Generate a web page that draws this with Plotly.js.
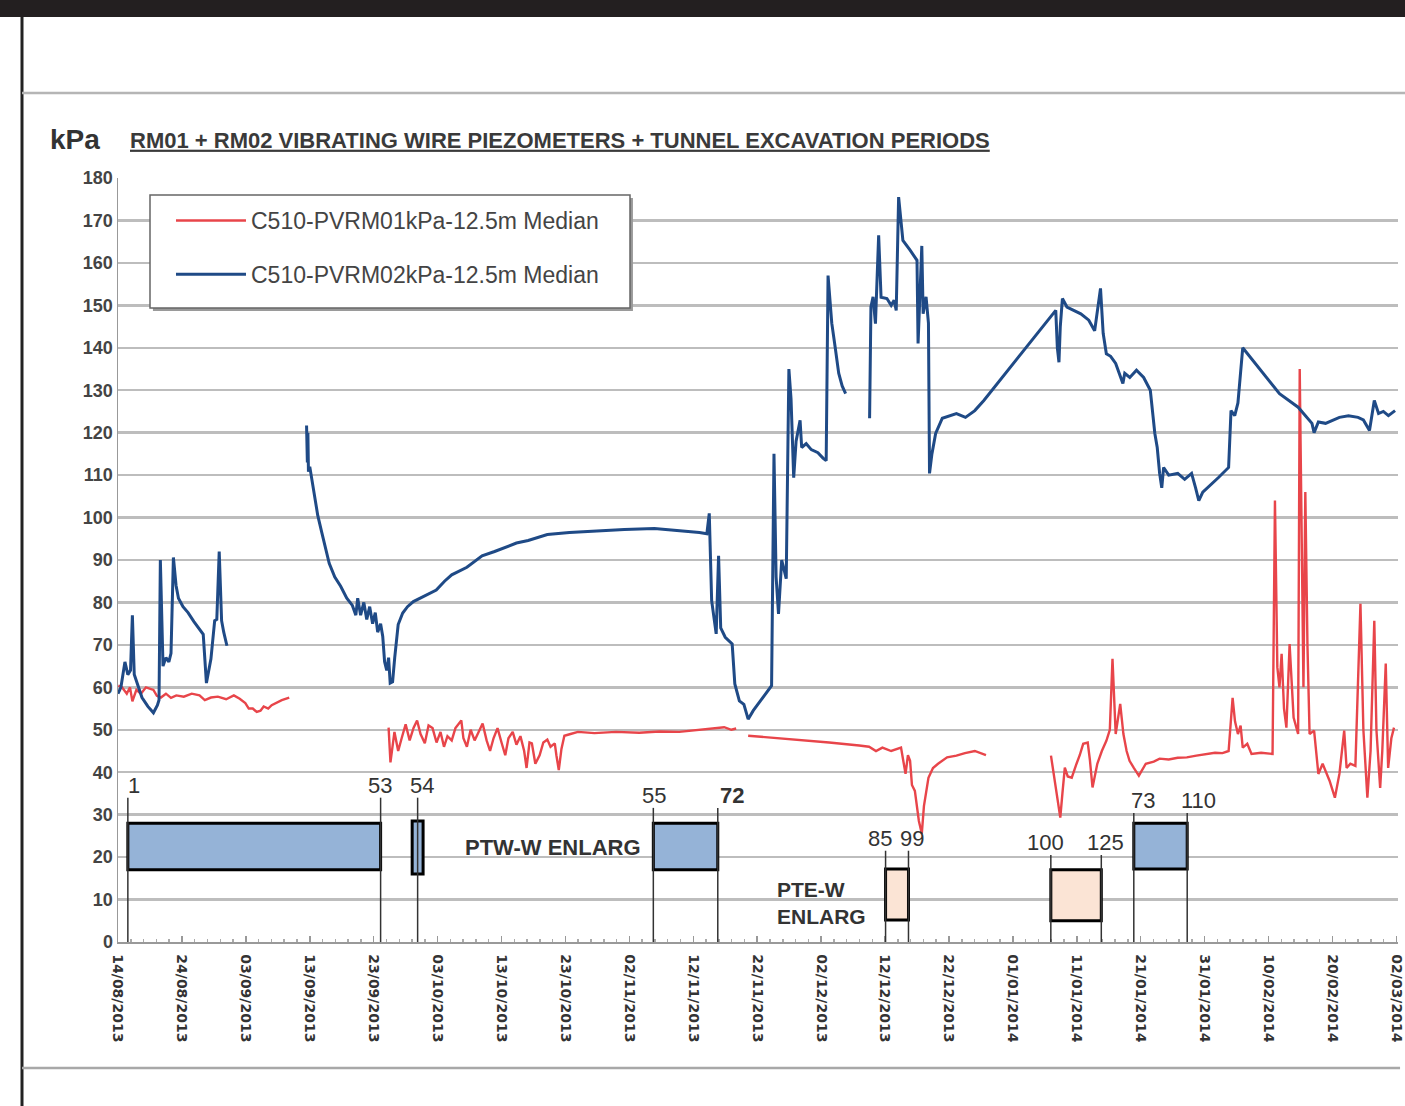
<!DOCTYPE html>
<html>
<head>
<meta charset="utf-8">
<script src="https://cdn.plot.ly/plotly-3.0.1.min.js"></script>
<style>html,body{margin:0;padding:0;background:#fff;}#chart{width:1405px;height:1106px;}</style>
</head>
<body>
<div id="chart"></div>
<script>
// ---------------- DATA ----------------
const seriesNames = ['C510-PVRM01kPa-12.5m Median', 'C510-PVRM02kPa-12.5m Median'];

// RM01 (red)
const rm01Dates = [
'2013-08-14 01:00','2013-08-14 15:00','2013-08-15 09:00','2013-08-15 21:00','2013-08-16 06:00','2013-08-16 21:00','2013-08-17 14:00','2013-08-18 09:00','2013-08-19 13:00','2013-08-20 02:00','2013-08-20 17:00','2013-08-21 12:00','2013-08-22 07:00','2013-08-23 03:00','2013-08-24 07:00','2013-08-25 13:00','2013-08-26 18:00','2013-08-27 14:00','2013-08-28 13:00','2013-08-29 15:00','2013-08-30 22:00','2013-09-01 03:00','2013-09-02 01:00','2013-09-02 22:00','2013-09-03 11:00','2013-09-04 02:00','2013-09-04 17:00','2013-09-05 07:00','2013-09-05 19:00','2013-09-06 12:00','2013-09-07 01:00','2013-09-07 17:00','2013-09-08 15:00','2013-09-09 19:00',
'2013-09-17 00:00',
'2013-09-25 08:00','2013-09-25 15:00','2013-09-26 06:00','2013-09-26 20:00','2013-09-27 09:00','2013-09-28 00:00','2013-09-28 15:00','2013-09-29 06:00','2013-09-29 19:00','2013-09-30 08:00','2013-10-01 00:00','2013-10-01 14:00','2013-10-02 05:00','2013-10-02 20:00','2013-10-03 11:00','2013-10-04 00:00','2013-10-04 13:00','2013-10-05 05:00','2013-10-05 19:00','2013-10-06 17:00','2013-10-07 01:00','2013-10-07 14:00','2013-10-08 04:00','2013-10-08 19:00','2013-10-09 10:00','2013-10-10 01:00','2013-10-10 16:00','2013-10-11 05:00','2013-10-11 18:00','2013-10-12 09:00','2013-10-13 00:00','2013-10-13 14:00','2013-10-14 02:00','2013-10-14 18:00','2013-10-15 08:00','2013-10-15 23:00','2013-10-16 13:00','2013-10-16 22:00','2013-10-17 09:00','2013-10-17 18:00','2013-10-18 07:00','2013-10-18 23:00','2013-10-19 13:00','2013-10-20 04:00','2013-10-20 16:00','2013-10-21 08:00','2013-10-21 14:00','2013-10-21 23:00','2013-10-22 09:00','2013-10-22 20:00','2013-10-23 19:00','2013-10-24 23:00','2013-10-27 13:00','2013-10-30 22:00','2013-11-03 13:00','2013-11-06 17:00','2013-11-09 19:00','2013-11-12 23:00','2013-11-15 07:00','2013-11-16 20:00','2013-11-17 23:00','2013-11-18 17:00',
'2013-11-19 12:00',
'2013-11-20 14:00','2013-11-23 21:00','2013-11-28 13:00','2013-12-03 06:00','2013-12-07 23:00','2013-12-09 12:00','2013-12-10 14:00','2013-12-11 14:00','2013-12-12 23:00','2013-12-13 21:00','2013-12-14 12:00','2013-12-15 05:00','2013-12-15 14:00','2013-12-15 22:00','2013-12-16 05:00','2013-12-16 16:00','2013-12-17 00:00','2013-12-17 07:00','2013-12-17 18:00','2013-12-18 02:00','2013-12-18 19:00','2013-12-19 12:00','2013-12-20 07:00','2013-12-21 17:00','2013-12-23 04:00','2013-12-24 12:00','2013-12-26 01:00','2013-12-27 00:00','2013-12-27 19:00',
'2014-01-01 00:00',
'2014-01-06 23:00','2014-01-07 06:00','2014-01-07 17:00','2014-01-08 01:00','2014-01-08 10:00','2014-01-08 18:00','2014-01-09 03:00','2014-01-09 14:00','2014-01-10 05:00','2014-01-10 23:00','2014-01-11 11:00','2014-01-12 00:00','2014-01-12 17:00','2014-01-13 01:00','2014-01-13 11:00','2014-01-14 05:00','2014-01-14 22:00','2014-01-15 15:00','2014-01-16 04:00','2014-01-16 14:00','2014-01-17 02:00','2014-01-17 19:00','2014-01-18 07:00','2014-01-18 19:00','2014-01-19 06:00','2014-01-19 22:00','2014-01-20 17:00','2014-01-21 19:00','2014-01-23 01:00','2014-01-23 23:00','2014-01-25 09:00','2014-01-26 19:00','2014-01-28 05:00','2014-01-29 17:00','2014-01-31 04:00','2014-02-01 15:00','2014-02-02 19:00','2014-02-03 18:00','2014-02-04 09:00','2014-02-04 18:00','2014-02-05 05:00','2014-02-05 15:00','2014-02-05 23:00','2014-02-06 16:00','2014-02-07 08:00','2014-02-08 20:00','2014-02-10 15:00','2014-02-11 00:00','2014-02-11 09:00','2014-02-11 17:00','2014-02-12 01:00','2014-02-12 10:00','2014-02-12 19:00','2014-02-13 07:00','2014-02-13 22:00','2014-02-14 15:00','2014-02-14 21:00','2014-02-15 06:00','2014-02-15 11:00','2014-02-15 18:00','2014-02-16 02:00','2014-02-16 10:00','2014-02-17 03:00','2014-02-17 19:00','2014-02-18 11:00','2014-02-18 22:00','2014-02-19 13:00','2014-02-20 09:00','2014-02-21 02:00','2014-02-21 20:00','2014-02-22 05:00','2014-02-22 19:00','2014-02-23 14:00','2014-02-24 09:00','2014-02-24 20:00','2014-02-25 11:00','2014-02-25 23:00','2014-02-26 13:00','2014-02-26 21:00','2014-02-27 11:00','2014-02-27 19:00','2014-02-28 08:00','2014-02-28 17:00','2014-03-01 05:00','2014-03-01 15:00'
];
const rm01Values = [
60.4,60,58.5,60,56.7,59.4,58.5,60,59.4,58,57.6,58.5,57.5,58.1,57.8,58.5,58.1,57,57.6,57.8,57.2,58.1,57.3,56.3,55,55,54.2,54.5,55.5,55,55.8,56.3,57,57.6,
null,
50.5,42.3,49.5,45,48,51.3,47.5,50.5,52.2,49,46.8,51,50.4,47,49.5,46,48.5,47.5,50.4,52.2,48,46,50,47.5,49.5,51.5,47.5,45,48,50.4,47,44,48,49.5,46.5,48.5,45,41,47,46.8,42,44,47,47.7,46,46.8,44,40.5,45.5,48.6,49,49.5,49.2,49.5,49.3,49.6,49.5,50,50.5,50.6,50,50.3,
null,
48.6,48.2,47.6,47,46.3,46,45,45.8,45,45.5,45.8,39.6,44,42.7,37,35.6,31,28.5,25.5,32,38.7,41,42,43.5,43.9,44.5,45,44.5,44,
null,
43.9,41,37.3,33,29.3,35,41.1,39,38.7,42,44,46.7,47,43,36.4,42,45,47.4,50,66.7,49,56.1,49,45,42.7,41,39.2,42,42.5,43.2,43,43.4,43.5,43.9,44.2,44.6,44.5,45,57.5,52,49,51,45.8,46.7,44.3,44.6,44.3,104,64.7,60,67.9,55,50.5,70.2,52.9,49,135,90,60,106,70,49,49.8,39.6,42,40.3,38,34,39.6,49.8,41,42,41.5,79.7,50,34,45,75.7,50,36.3,45,65.6,41,48,50.5
];

// RM02 (blue)
const rm02Dates = [
'2013-08-14 00:00','2013-08-14 11:00','2013-08-15 02:00','2013-08-15 13:00','2013-08-15 23:00','2013-08-16 06:00','2013-08-16 13:00','2013-08-16 23:00','2013-08-17 18:00','2013-08-18 16:00','2013-08-19 13:00','2013-08-20 04:00','2013-08-20 10:00','2013-08-20 15:00','2013-08-20 21:00','2013-08-21 01:00','2013-08-21 12:00','2013-08-21 23:00','2013-08-22 07:00','2013-08-22 16:00','2013-08-23 02:00','2013-08-23 11:00','2013-08-24 04:00','2013-08-24 23:00','2013-08-25 21:00','2013-08-26 16:00','2013-08-27 08:00','2013-08-27 20:00','2013-08-28 05:00','2013-08-28 13:00','2013-08-29 03:00','2013-08-29 11:00','2013-08-29 20:00','2013-08-30 05:00','2013-08-30 13:00','2013-08-31 01:00',
'2013-09-05 00:00',
'2013-09-12 12:00','2013-09-12 15:00','2013-09-12 17:00','2013-09-12 19:00','2013-09-13 00:00','2013-09-13 16:00','2013-09-14 06:00','2013-09-14 21:00','2013-09-16 01:00','2013-09-16 22:00','2013-09-17 20:00','2013-09-18 19:00','2013-09-19 16:00','2013-09-20 05:00','2013-09-20 12:00','2013-09-20 23:00','2013-09-21 11:00','2013-09-21 22:00','2013-09-22 09:00','2013-09-22 20:00','2013-09-23 06:00','2013-09-23 15:00','2013-09-24 02:00','2013-09-24 10:00','2013-09-24 17:00','2013-09-25 01:00','2013-09-25 08:00','2013-09-25 14:00','2013-09-25 23:00','2013-09-26 07:00','2013-09-26 20:00','2013-09-27 13:00','2013-09-28 07:00','2013-09-29 05:00','2013-09-30 23:00','2013-10-02 19:00','2013-10-04 02:00','2013-10-05 05:00','2013-10-07 14:00','2013-10-09 23:00','2013-10-11 22:00','2013-10-13 14:00','2013-10-15 08:00','2013-10-17 04:00','2013-10-20 04:00','2013-10-23 15:00','2013-10-27 22:00','2013-11-01 05:00','2013-11-05 22:00','2013-11-09 19:00','2013-11-12 23:00','2013-11-14 03:00','2013-11-14 12:00','2013-11-14 21:00','2013-11-15 07:00','2013-11-15 14:00','2013-11-15 23:00','2013-11-16 07:00','2013-11-17 00:00','2013-11-18 02:00','2013-11-18 12:00','2013-11-19 05:00','2013-11-19 22:00','2013-11-20 14:00','2013-11-21 09:00','2013-11-22 19:00','2013-11-24 06:00','2013-11-24 15:00','2013-11-24 23:00','2013-11-25 08:00','2013-11-25 20:00','2013-11-26 13:00','2013-11-26 23:00','2013-11-27 07:00','2013-11-27 17:00','2013-11-28 02:00','2013-11-28 17:00','2013-11-28 23:00','2013-11-29 16:00','2013-11-30 11:00','2013-12-01 12:00','2013-12-02 07:00','2013-12-02 19:00','2013-12-03 02:00','2013-12-03 16:00','2013-12-04 05:00','2013-12-04 18:00','2013-12-05 07:00','2013-12-05 20:00',
'2013-12-07 12:00',
'2013-12-09 14:00','2013-12-09 19:00','2013-12-10 03:00','2013-12-10 12:00','2013-12-11 00:00','2013-12-11 09:00','2013-12-12 07:00','2013-12-12 23:00','2013-12-13 10:00','2013-12-13 18:00','2013-12-14 03:00','2013-12-14 19:00','2013-12-15 22:00','2013-12-17 00:00','2013-12-17 04:00','2013-12-17 18:00','2013-12-17 23:00','2013-12-18 10:00','2013-12-18 19:00','2013-12-18 23:00','2013-12-19 08:00','2013-12-19 22:00','2013-12-20 23:00','2013-12-22 00:00','2013-12-23 04:00','2013-12-24 14:00','2013-12-26 01:00','2013-12-27 11:00','2014-01-07 17:00','2014-01-07 23:00','2014-01-08 05:00','2014-01-08 10:00','2014-01-08 18:00','2014-01-09 11:00','2014-01-11 15:00','2014-01-12 21:00','2014-01-13 19:00','2014-01-14 17:00','2014-01-15 03:00','2014-01-15 15:00','2014-01-16 07:00','2014-01-17 02:00','2014-01-18 05:00','2014-01-18 12:00','2014-01-19 07:00','2014-01-20 08:00','2014-01-21 11:00','2014-01-22 12:00','2014-01-23 05:00','2014-01-23 14:00','2014-01-23 23:00','2014-01-24 07:00','2014-01-24 14:00','2014-01-25 09:00','2014-01-26 19:00','2014-01-27 21:00','2014-01-28 23:00','2014-01-29 14:00','2014-01-30 02:00','2014-01-30 17:00','2014-01-31 11:00','2014-02-02 05:00','2014-02-03 18:00','2014-02-04 03:00','2014-02-04 17:00','2014-02-05 05:00','2014-02-05 23:00','2014-02-08 20:00','2014-02-11 17:00','2014-02-14 15:00','2014-02-16 19:00','2014-02-17 03:00','2014-02-17 19:00','2014-02-18 22:00','2014-02-21 02:00','2014-02-22 12:00','2014-02-24 00:00','2014-02-24 20:00','2014-02-25 19:00','2014-02-26 13:00','2014-02-27 05:00','2014-02-27 23:00','2014-02-28 18:00','2014-03-01 19:00'
];
const rm02Values = [
58.5,60,66,63,64,77,63,61,57.6,55.5,54,55.8,57,90,75,65,67,66,68,90.6,84,81,79,77.6,75.5,74,72.5,61,64,66.7,75.7,76,92,75.7,73,69.8,
null,
121.7,113,120,110.8,112,105.4,100.5,96.5,89.2,86,83.8,81,79.3,77,81,77,80,76,79,75,77.6,73,75,72,66,64,67,61,61.3,67,74.8,77.5,79,80.2,81.5,82.9,85,86.5,88.3,91,92,93,94,94.6,96,96.5,96.9,97.2,97.4,97,96.5,96.2,101,80.4,75,72.6,91,74,71.8,70.2,60.8,56.8,56,52.5,54.5,57.5,60.4,115,86,77.3,90,85.6,135,128,109.4,118,122.9,116.5,117.4,116,115.3,114,113.4,157,145.8,140,134,131,129.2,
null,
123.4,149.6,152,145.7,166.5,151.9,151.6,150,151.2,148.8,175.5,165.3,163,160.6,141,164,148,152,145.8,110.4,115,119.8,123.4,124,124.5,123.6,125.2,127.6,148.8,140,136.6,145,151.6,149.6,148,146.5,144,154,143.4,138.6,138,136.3,131.6,134,133,134.7,133,130,119.8,116.5,110.4,107,111.8,110,110.4,109,110.4,107,104,106,107,109.5,111.8,125.2,124,127,140,134.7,129.2,126,122.2,120,122.5,122.2,123.6,124,123.6,123,120.5,127.6,124.5,125,124,125.2
];

// Tunnel excavation / enlargement periods
const periodStart = ['2013-08-15 13:00','2013-09-29 00:30','2013-11-05 18:00','2013-12-12 02:00','2014-01-06 22:30','2014-01-19 22:00'];
const periodEnd   = ['2013-09-24 02:00','2013-09-30 17:30','2013-11-15 20:00','2013-12-15 16:00','2014-01-14 20:00','2014-01-28 06:30'];
const periodLow   = [17, 16, 17, 5.2, 5, 17.2];
const periodHigh  = [28, 28.5, 28, 17.2, 17, 28];
const periodKind  = ['excavation','excavation','excavation','enlargement','enlargement','excavation'];
const periodStartLabel = ['1','54','55','85','100','73'];
const periodEndLabel   = ['53','','72','99','125','110'];
const periodLineTop    = [34, 34, 31.6, 21.5, 20.5, 30.4];

const noteTexts = ['PTW-W ENLARG', 'PTE-W<br>ENLARG'];
const noteDates = ['2013-10-21 03:00', '2013-11-24 19:00'];
const noteValues = [22.2, 9.2];

const titleText = 'RM01 + RM02 VIBRATING WIRE PIEZOMETERS + TUNNEL EXCAVATION PERIODS';
const unitText = 'kPa';

// ---------------- BUILD ----------------
const RED = '#e8454a', BLUE = '#1f4a86';
const kindFill = {excavation: '#95b3d7', enlargement: '#fbe4d5'};
const FONT = 'Liberation Sans, Arial, sans-serif';

function toMs(s){ return Date.parse(s.replace(' ','T') + ':00Z'); }
function fromMs(ms){ return new Date(ms).toISOString().replace('T',' ').slice(0,16); }

const traces = [
  {x: rm01Dates, y: rm01Values, name: seriesNames[0], type: 'scatter', mode: 'lines',
   line: {color: RED, width: 2.4}, legendgroup: 'a', connectgaps: false},
  {x: rm02Dates, y: rm02Values, name: seriesNames[1], type: 'scatter', mode: 'lines',
   line: {color: BLUE, width: 3}, legendgroup: 'b', connectgaps: false}
];

const shapes = [];
const annotations = [];

// page frame (paper coordinates)
shapes.push({type:'rect', xref:'paper', yref:'paper', x0:-0.1, x1:1.01, y0:1.2107, y1:1.24, fillcolor:'#231f20', line:{width:0}, layer:'above'});
shapes.push({type:'line', xref:'paper', yref:'paper', x0:-0.075, x1:-0.075, y0:-0.22, y1:1.2107, line:{color:'#222', width:3}});
shapes.push({type:'line', xref:'paper', yref:'paper', x0:-0.075, x1:1.01, y0:1.1113, y1:1.1113, line:{color:'#b5b5b5', width:2.5}});
shapes.push({type:'line', xref:'paper', yref:'paper', x0:-0.075, x1:1.0016, y0:-0.1649, y1:-0.1649, line:{color:'#a8a8a8', width:2.5}});

// legend frame with shadow
shapes.push({type:'rect', xref:'paper', yref:'paper', x0:0.0273, x1:0.4023, y0:0.8259, y1:0.9738, fillcolor:'#9a9a9a', line:{width:0}, layer:'above'});
shapes.push({type:'rect', xref:'paper', yref:'paper', x0:0.025, x1:0.4, y0:0.8298, y1:0.9777, fillcolor:'#ffffff', line:{color:'#666', width:1.5}, layer:'above'});

// label placement style: [anchor, xshift]
const labelStyle = {'1':['left',-2], '53':['center',-1], '54':['center',4], '55':['center',1], '72':['left',0],
  '85':['center',-6], '99':['center',4], '100':['center',-5], '125':['center',4], '73':['left',-5], '110':['center',11]};

for (let i = 0; i < periodStart.length; i++) {
  shapes.push({type:'rect', xref:'x', yref:'y', x0: periodStart[i], x1: periodEnd[i], y0: periodLow[i], y1: periodHigh[i],
    fillcolor: kindFill[periodKind[i]], line:{color:'#000', width:3}, layer:'above'});
  const single = periodEndLabel[i] === '';
  const lineDates = single ? [fromMs((toMs(periodStart[i]) + toMs(periodEnd[i])) / 2)] : [periodStart[i], periodEnd[i]];
  const lineLabels = single ? [periodStartLabel[i]] : [periodStartLabel[i], periodEndLabel[i]];
  lineDates.forEach((d, k) => {
    shapes.push({type:'line', xref:'x', yref:'y', x0: d, x1: d, y0: 0, y1: periodLineTop[i], line:{color:'#333', width:1.5}, layer:'above'});
    const lab = lineLabels[k];
    const st = labelStyle[lab] || ['center', 0];
    annotations.push({xref:'x', yref:'y', x: d, y: periodLineTop[i], text: lab, showarrow:false,
      xanchor: st[0], yanchor:'middle', xshift: st[1], yshift: 12,
      font:{family: FONT, size: 22, color:'#333', weight: lab === '72' ? 'bold' : 'normal'}});
  });
}

noteTexts.forEach((t, i) => {
  annotations.push({xref:'x', yref:'y', x: noteDates[i], y: noteValues[i], text: t, showarrow:false,
    xanchor: i === 0 ? 'center' : 'left', yanchor:'middle', align:'left',
    font:{family: FONT, size: i === 0 ? 22 : 21, color:'#333', weight:'bold'}});
});

annotations.push({xref:'paper', yref:'paper', x:-0.055, y:1.051, xanchor:'left', yanchor:'middle', text: unitText,
  showarrow:false, font:{family: FONT, size: 28, color:'#333', weight:'bold'}});

const layout = {
  width: 1405, height: 1106,
  margin: {l:118, r:7, t:178, b:164, pad:0},
  paper_bgcolor: '#fff', plot_bgcolor: '#fff',
  title: {text: '<u>' + titleText + '</u>', x: 130/1405, xanchor:'left', xref:'container',
          y: 1 - 140/1106, yref:'container', yanchor:'middle',
          font:{family: FONT, size: 22, color:'#3a3a3a', weight:'bold'}},
  showlegend: true,
  legend: {x: 0.0414, y: 0.9725, xanchor:'left', yanchor:'top', bgcolor:'rgba(0,0,0,0)', borderwidth:0,
           font:{family: FONT, size: 23, color:'#444'}, traceorder:'grouped', tracegroupgap: 21, itemwidth: 70},
  xaxis: {type:'date', range:['2013-08-14','2014-03-02 06:00'], tick0:'2013-08-14', dtick: 864000000,
          tickformat:'%d/%m/%Y', tickangle: 90, tickfont:{family: 'DejaVu Sans, sans-serif', size: 14, color:'#333', weight:'bold'},
          ticklabelstandoff: 8,
          ticks:'inside', ticklen: 6, tickcolor:'#999', tickwidth: 1.5, showline: true, linecolor:'#999', linewidth: 1.5,
          showgrid: false, zeroline: false,
          minor: {tick0:'2013-08-14', dtick: 172800000, ticks:'inside', ticklen: 3, tickcolor:'#aaa', showgrid:false}},
  yaxis: {range:[0,180], tick0: 0, dtick: 10, showgrid: true, gridcolor:'#bdbdbd', gridwidth: 2.5,
          showline: true, linecolor:'#999', linewidth: 1.5, zeroline: false, ticks:'',
          tickfont:{family: FONT, size: 18, color:'#444', weight:'bold'}},
  shapes: shapes,
  annotations: annotations
};

Plotly.newPlot('chart', traces, layout, {staticPlot: true, displayModeBar: false});
</script>
</body>
</html>
